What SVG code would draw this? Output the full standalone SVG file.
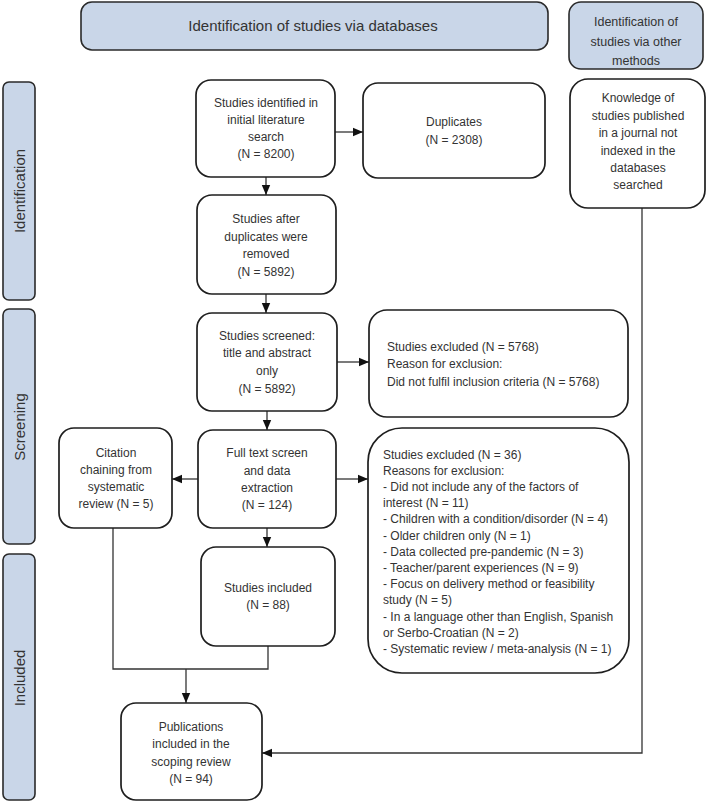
<svg xmlns="http://www.w3.org/2000/svg" width="709" height="803" viewBox="0 0 709 803">
<defs>
<marker id="arr" markerUnits="userSpaceOnUse" markerWidth="10" markerHeight="10" viewBox="0 0 10 10" refX="10" refY="5" orient="auto">
<path d="M0,0.8 L10,5 L0,9.2 Z" fill="#111"/>
</marker>
<style>
.hdr{fill:#c9d6e8;stroke:#2a2a2a;stroke-width:1.6}
.box{fill:#fff;stroke:#1e1e1e;stroke-width:1.7}
.t{font-family:"Liberation Sans",Arial,sans-serif;font-size:12px;fill:#333}
.c{text-anchor:middle}
.big{font-size:15px}
.side{font-size:15px;text-anchor:middle}
.con{fill:none;stroke:#333;stroke-width:1.3}
</style>
</defs>

<g id="header-databases">
<rect class="hdr" x="81" y="2" width="467" height="48" rx="11"/>
<text class="t c big" x="313" y="31">Identification of studies via databases</text>
</g>
<g id="header-other">
<rect class="hdr" x="569" y="2" width="134" height="67" rx="12"/>
<text class="t c" x="636" y="26" style="font-size:12.5px">Identification of</text>
<text class="t c" x="636" y="46" style="font-size:12.5px">studies via other</text>
<text class="t c" x="636" y="65" style="font-size:12.5px">methods</text>
</g>

<g id="side-identification">
<rect class="hdr" x="3" y="82" width="32" height="218" rx="6"/>
<text class="t side" transform="translate(25,191) rotate(-90)">Identification</text>
</g>
<g id="side-screening">
<rect class="hdr" x="3" y="309" width="32" height="235" rx="6"/>
<text class="t side" transform="translate(25,427) rotate(-90)">Screening</text>
</g>
<g id="side-included">
<rect class="hdr" x="3" y="554" width="32" height="246" rx="6"/>
<text class="t side" transform="translate(25,678) rotate(-90)">Included</text>
</g>

<g id="connectors">
<line class="con" x1="335" y1="132" x2="363" y2="132" marker-end="url(#arr)"/>
<line class="con" x1="266" y1="177" x2="266" y2="195" marker-end="url(#arr)"/>
<line class="con" x1="266" y1="294" x2="266" y2="313" marker-end="url(#arr)"/>
<line class="con" x1="337" y1="362" x2="369" y2="362" marker-end="url(#arr)"/>
<line class="con" x1="267" y1="411" x2="267" y2="430" marker-end="url(#arr)"/>
<line class="con" x1="198" y1="479" x2="172" y2="479" marker-end="url(#arr)"/>
<line class="con" x1="336" y1="479" x2="368" y2="479" marker-end="url(#arr)"/>
<line class="con" x1="267" y1="528" x2="267" y2="547" marker-end="url(#arr)"/>
<path class="con" d="M113,528 V669 H268 V646"/>
<line class="con" x1="186" y1="669" x2="186" y2="703" marker-end="url(#arr)"/>
<path class="con" d="M642,208 V753 H262" marker-end="url(#arr)"/>
</g>

<g id="node-identified">
<rect class="box" x="196" y="80" width="139" height="97" rx="15"/>
<text class="t c" x="266" y="107">Studies identified in</text>
<text class="t c" x="266" y="124">initial literature</text>
<text class="t c" x="266" y="141">search</text>
<text class="t c" x="266" y="158">(N = 8200)</text>
</g>
<g id="node-duplicates">
<rect class="box" x="363" y="83" width="182" height="95" rx="15"/>
<text class="t c" x="454" y="126">Duplicates</text>
<text class="t c" x="454" y="144">(N = 2308)</text>
</g>
<g id="node-knowledge">
<rect class="box" x="570" y="79" width="135" height="129" rx="18"/>
<text class="t c" x="638" y="102">Knowledge of</text>
<text class="t c" x="638" y="120">studies published</text>
<text class="t c" x="638" y="137">in a journal not</text>
<text class="t c" x="638" y="155">indexed in the</text>
<text class="t c" x="638" y="172">databases</text>
<text class="t c" x="638" y="189">searched</text>
</g>
<g id="node-after-duplicates">
<rect class="box" x="197" y="195" width="139" height="99" rx="15"/>
<text class="t c" x="266" y="223">Studies after</text>
<text class="t c" x="266" y="241">duplicates were</text>
<text class="t c" x="266" y="258">removed</text>
<text class="t c" x="266" y="276">(N = 5892)</text>
</g>
<g id="node-screened">
<rect class="box" x="197" y="313" width="140" height="98" rx="15"/>
<text class="t c" x="267" y="340">Studies screened:</text>
<text class="t c" x="267" y="357">title and abstract</text>
<text class="t c" x="267" y="375">only</text>
<text class="t c" x="267" y="393">(N = 5892)</text>
</g>
<g id="node-excluded-5768">
<rect class="box" x="369" y="310" width="259" height="107" rx="18"/>
<text class="t" x="387" y="351">Studies excluded (N = 5768)</text>
<text class="t" x="387" y="368">Reason for exclusion:</text>
<text class="t" x="387" y="386">Did not fulfil inclusion criteria (N = 5768)</text>
</g>
<g id="node-fulltext">
<rect class="box" x="198" y="430" width="138" height="98" rx="15"/>
<text class="t c" x="267" y="457">Full text screen</text>
<text class="t c" x="267" y="475">and data</text>
<text class="t c" x="267" y="492">extraction</text>
<text class="t c" x="267" y="509">(N = 124)</text>
</g>
<g id="node-citation">
<rect class="box" x="59" y="428" width="113" height="100" rx="15"/>
<text class="t c" x="116" y="457">Citation</text>
<text class="t c" x="116" y="474">chaining from</text>
<text class="t c" x="116" y="491">systematic</text>
<text class="t c" x="116" y="508">review (N = 5)</text>
</g>
<g id="node-excluded-36">
<rect class="box" x="368" y="428" width="261" height="245" rx="34"/>
<text class="t" x="383" y="458.5">Studies excluded (N = 36)</text>
<text class="t" x="383" y="474.7">Reasons for exclusion:</text>
<text class="t" x="383" y="490.9">- Did not include any of the factors of</text>
<text class="t" x="383" y="507.1">interest (N = 11)</text>
<text class="t" x="383" y="523.3">- Children with a condition/disorder (N = 4)</text>
<text class="t" x="383" y="539.5">- Older children only (N = 1)</text>
<text class="t" x="383" y="555.7">- Data collected pre-pandemic (N = 3)</text>
<text class="t" x="383" y="571.9">- Teacher/parent experiences (N = 9)</text>
<text class="t" x="383" y="588.1">- Focus on delivery method or feasibility</text>
<text class="t" x="383" y="604.3">study (N = 5)</text>
<text class="t" x="383" y="620.5">- In a language other than English, Spanish</text>
<text class="t" x="383" y="636.7">or Serbo-Croatian (N = 2)</text>
<text class="t" x="383" y="652.9">- Systematic review / meta-analysis (N = 1)</text>
</g>
<g id="node-included">
<rect class="box" x="201" y="547" width="134" height="99" rx="15"/>
<text class="t c" x="268" y="592">Studies included</text>
<text class="t c" x="268" y="609">(N = 88)</text>
</g>
<g id="node-publications">
<rect class="box" x="121" y="703" width="141" height="97" rx="15"/>
<text class="t c" x="191" y="731">Publications</text>
<text class="t c" x="191" y="748">included in the</text>
<text class="t c" x="191" y="766">scoping review</text>
<text class="t c" x="191" y="783">(N = 94)</text>
</g>
</svg>
